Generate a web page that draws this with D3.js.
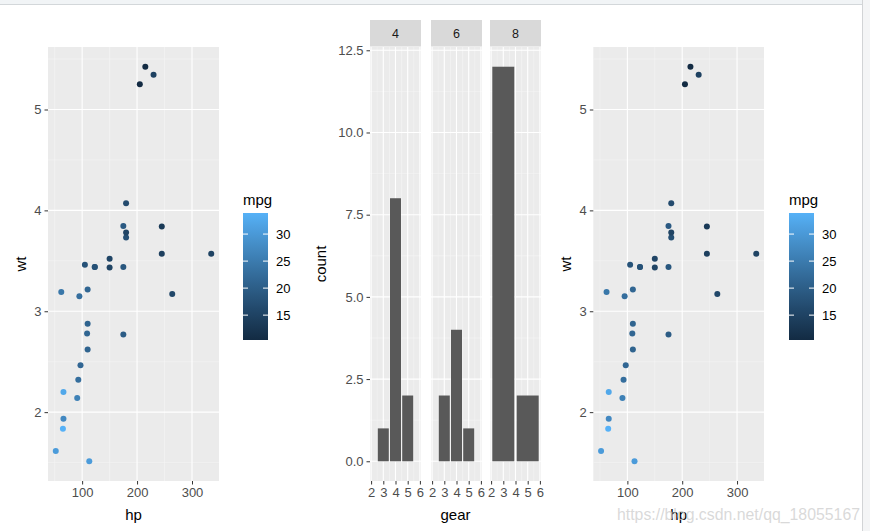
<!DOCTYPE html>
<html>
<head>
<meta charset="utf-8">
<script src="https://cdn.jsdelivr.net/npm/d3@7"></script>
<style>
  html, body { margin: 0; padding: 0; background: #ffffff; }
  svg { display: block; font-family: "Liberation Sans", Arial, sans-serif; }
</style>
</head>
<body>
<script>
// ---- data (mtcars) ----
const hp  = [110,110,93,110,175,105,245,62,95,123,123,180,180,180,205,215,230,66,52,65,97,150,150,245,175,66,91,113,264,175,335,109];
const wt  = [2.620,2.875,2.320,3.215,3.440,3.460,3.570,3.190,3.150,3.440,3.440,4.070,3.730,3.780,5.250,5.424,5.345,2.200,1.615,1.835,2.465,3.520,3.435,3.840,3.845,1.935,2.140,1.513,3.170,2.770,3.570,2.780];
const mpg = [21.0,21.0,22.8,21.4,18.7,18.1,14.3,24.4,22.8,19.2,17.8,16.4,17.3,15.2,10.4,10.4,14.7,32.4,30.4,33.9,21.5,15.5,15.2,13.3,19.2,27.3,26.0,30.4,15.8,19.7,15.0,21.4];

const hpTicks = [100, 200, 300];
const wtTicks = [2, 3, 4, 5];
const mpgTicks = [15, 20, 25, 30];

const cylFacets = ["4", "6", "8"];
const gears4 = [3, 4, 5], counts4 = [1, 8, 2];
const gears6 = [3, 4, 5], counts6 = [2, 4, 1];
const gears8 = [3, 5],    counts8 = [12, 2];
const gearTicks = [2, 3, 4, 5, 6];
const countTicks = [0, 2.5, 5, 7.5, 10, 12.5];
const watermark = "https://blog.csdn.net/qq_18055167";

// ---- setup ----
const W = 870, H = 531;
const svg = d3.select("body").append("svg").attr("width", W).attr("height", H);

const PANEL_BG = "#ebebeb", GRID = "#ffffff", MINOR = "#f5f5f5";
const AXIS_TEXT = "#4d4d4d", TICK = "#333333";
const TICK_FS = "13px", TITLE_FS = "15px";
const colorInterp = d3.interpolateLab("#132B43", "#56B1F7");
const mpgExtent = d3.extent(mpg);
const color = d3.scaleLinear().domain(mpgExtent).range([0, 1]);

const pTop = 47, pBottom = 481;

function expand(ext, f = 0.05) {
  const d = ext[1] - ext[0];
  return [ext[0] - d * f, ext[1] + d * f];
}

// page chrome
svg.append("rect").attr("x", 0).attr("y", 0).attr("width", W).attr("height", 4).attr("fill", "#f1f4f6");
svg.append("line").attr("x1", 0).attr("x2", W).attr("y1", 4.5).attr("y2", 4.5).attr("stroke", "#d3d7da");
svg.append("rect").attr("x", 863).attr("y", 0).attr("width", 7).attr("height", H).attr("fill", "#f4f5f6");
svg.append("line").attr("x1", 862.5).attr("x2", 862.5).attr("y1", 0).attr("y2", H).attr("stroke", "#d2d4d6");

// gradient
const defs = svg.append("defs");
const grad = defs.append("linearGradient").attr("id", "mpgGrad")
  .attr("x1", 0).attr("y1", 1).attr("x2", 0).attr("y2", 0);
d3.range(0, 21).forEach(i => {
  grad.append("stop").attr("offset", (i / 20)).attr("stop-color", colorInterp(i / 20));
});

function styleAxis(a) {
  a.select(".domain").remove();
  a.selectAll(".tick line").attr("stroke", TICK);
  a.selectAll(".tick text").attr("fill", AXIS_TEXT).style("font-size", TICK_FS);
}

function scatter(x0, x1, legX) {
  const g = svg.append("g");
  const x = d3.scaleLinear().domain(expand(d3.extent(hp))).range([x0, x1]);
  const y = d3.scaleLinear().domain(expand(d3.extent(wt))).range([pBottom, pTop]);
  g.append("rect").attr("x", x0).attr("y", pTop).attr("width", x1 - x0).attr("height", pBottom - pTop).attr("fill", PANEL_BG);
  const xMinor = [50, 150, 250], yMinor = [1.5, 2.5, 3.5, 4.5, 5.5];
  g.selectAll(".xmin").data(xMinor).join("line")
    .attr("x1", d => x(d)).attr("x2", d => x(d)).attr("y1", pTop).attr("y2", pBottom)
    .attr("stroke", MINOR).attr("stroke-width", 0.6);
  g.selectAll(".ymin").data(yMinor).join("line")
    .attr("y1", d => y(d)).attr("y2", d => y(d)).attr("x1", x0).attr("x2", x1)
    .attr("stroke", MINOR).attr("stroke-width", 0.6);
  g.selectAll(".xmaj").data(hpTicks).join("line")
    .attr("x1", d => x(d)).attr("x2", d => x(d)).attr("y1", pTop).attr("y2", pBottom)
    .attr("stroke", GRID).attr("stroke-width", 1.1);
  g.selectAll(".ymaj").data(wtTicks).join("line")
    .attr("y1", d => y(d)).attr("y2", d => y(d)).attr("x1", x0).attr("x2", x1)
    .attr("stroke", GRID).attr("stroke-width", 1.1);

  styleAxis(g.append("g").attr("transform", `translate(0,${pBottom})`)
    .call(d3.axisBottom(x).tickValues(hpTicks).tickFormat(d3.format("d")).tickSize(3.5).tickPadding(3)));
  styleAxis(g.append("g").attr("transform", `translate(${x0},0)`)
    .call(d3.axisLeft(y).tickValues(wtTicks).tickFormat(d3.format("d")).tickSize(3.5).tickPadding(3)));

  // points
  g.selectAll("circle").data(hp.map((h, i) => ({ h, w: wt[i], m: mpg[i] }))).join("circle")
    .attr("cx", d => x(d.h)).attr("cy", d => y(d.w)).attr("r", 3)
    .attr("fill", d => colorInterp(color(d.m)));

  // titles
  g.append("text").attr("x", (x0 + x1) / 2).attr("y", 520).attr("text-anchor", "middle")
    .style("font-size", TITLE_FS).attr("fill", "#000").text("hp");
  g.append("text").attr("transform", `translate(${x0 - 22},${(pTop + pBottom) / 2}) rotate(-90)`)
    .attr("text-anchor", "middle").style("font-size", TITLE_FS).attr("fill", "#000").text("wt");

  // legend
  const lb = { x: legX, w: 25, y0: 213, y1: 340 };
  g.append("text").attr("x", lb.x).attr("y", 205).style("font-size", TITLE_FS).attr("fill", "#000").text("mpg");
  g.append("rect").attr("x", lb.x).attr("y", lb.y0).attr("width", lb.w).attr("height", lb.y1 - lb.y0)
    .attr("fill", "url(#mpgGrad)");
  const ly = d3.scaleLinear().domain(mpgExtent).range([lb.y1, lb.y0]);
  mpgTicks.forEach(t => {
    g.append("line").attr("x1", lb.x).attr("x2", lb.x + 5).attr("y1", ly(t)).attr("y2", ly(t)).attr("stroke", "#fff").attr("stroke-width", 1);
    g.append("line").attr("x1", lb.x + lb.w - 5).attr("x2", lb.x + lb.w).attr("y1", ly(t)).attr("y2", ly(t)).attr("stroke", "#fff").attr("stroke-width", 1);
    g.append("text").attr("x", lb.x + lb.w + 8).attr("y", ly(t)).attr("dy", "0.35em")
      .style("font-size", TICK_FS).attr("fill", "#000").text(t);
  });
}

scatter(48, 219, 243);
scatter(593.3, 764, 789);

// ---- faceted bar chart ----
const facetX = [[370, 421], [431, 482], [490, 541]];
const facetData = [[gears4, counts4], [gears6, counts6], [gears8, counts8]];
const yBar = d3.scaleLinear().domain([-0.6, 12.6]).range([pBottom, pTop]);
const stripTop = 20;

facetX.forEach(([x0, x1], fi) => {
  const g = svg.append("g");
  const x = d3.scaleLinear().domain([1.91, 6.09]).range([x0, x1]);
  g.append("rect").attr("x", x0).attr("y", pTop).attr("width", x1 - x0).attr("height", pBottom - pTop).attr("fill", PANEL_BG);
  const xMinor = [2.5, 3.5, 4.5, 5.5];
  const yMinor = [1.25, 3.75, 6.25, 8.75, 11.25];
  g.selectAll(".xmin").data(xMinor).join("line")
    .attr("x1", d => x(d)).attr("x2", d => x(d)).attr("y1", pTop).attr("y2", pBottom)
    .attr("stroke", MINOR).attr("stroke-width", 0.6);
  g.selectAll(".ymin").data(yMinor).join("line")
    .attr("y1", d => yBar(d)).attr("y2", d => yBar(d)).attr("x1", x0).attr("x2", x1)
    .attr("stroke", MINOR).attr("stroke-width", 0.6);
  g.selectAll(".xmaj").data(gearTicks).join("line")
    .attr("x1", d => x(d)).attr("x2", d => x(d)).attr("y1", pTop).attr("y2", pBottom)
    .attr("stroke", GRID).attr("stroke-width", 1.1);
  g.selectAll(".ymaj").data(countTicks).join("line")
    .attr("y1", d => yBar(d)).attr("y2", d => yBar(d)).attr("x1", x0).attr("x2", x1)
    .attr("stroke", GRID).attr("stroke-width", 1.1);

  // strip
  g.append("rect").attr("x", x0).attr("y", stripTop).attr("width", x1 - x0).attr("height", pTop - stripTop - 0.5)
    .attr("fill", "#d9d9d9");
  g.append("text").attr("x", (x0 + x1) / 2).attr("y", (stripTop + pTop) / 2).attr("dy", "0.35em")
    .attr("text-anchor", "middle").style("font-size", "12.5px").attr("fill", "#1a1a1a").text(cylFacets[fi]);

  // bars (width = 0.9 * resolution within the panel)
  const [gears, counts] = facetData[fi];
  const res = gears.length > 1 ? d3.min(d3.pairs(gears), p => p[1] - p[0]) : 1;
  const bw = 0.9 * res;
  g.selectAll(".bar").data(gears.map((gv, i) => ({ g: gv, c: counts[i] }))).join("rect")
    .attr("x", d => x(d.g - bw / 2)).attr("width", d => x(d.g + bw / 2) - x(d.g - bw / 2))
    .attr("y", d => yBar(d.c)).attr("height", d => yBar(0) - yBar(d.c))
    .attr("fill", "#595959");

  styleAxis(g.append("g").attr("transform", `translate(0,${pBottom})`)
    .call(d3.axisBottom(x).tickValues(gearTicks).tickFormat(d3.format("d")).tickSize(3.5).tickPadding(3)));

  if (fi === 0) {
    styleAxis(g.append("g").attr("transform", `translate(${x0},0)`)
      .call(d3.axisLeft(yBar).tickValues(countTicks).tickFormat(d3.format(".1f")).tickSize(3.5).tickPadding(3)));
  }
});

svg.append("text").attr("x", (370 + 541) / 2).attr("y", 520).attr("text-anchor", "middle")
  .style("font-size", TITLE_FS).attr("fill", "#000").text("gear");
svg.append("text").attr("transform", `translate(${370 - 44},${(pTop + pBottom) / 2}) rotate(-90)`)
  .attr("text-anchor", "middle").style("font-size", TITLE_FS).attr("fill", "#000").text("count");

// watermark
svg.append("text").attr("x", 617).attr("y", 520).attr("textLength", 243).attr("lengthAdjust", "spacingAndGlyphs")
  .style("font-size", "16px").attr("fill", "#cfcfcf").attr("fill-opacity", 0.8).text(watermark);
</script>
</body>
</html>
